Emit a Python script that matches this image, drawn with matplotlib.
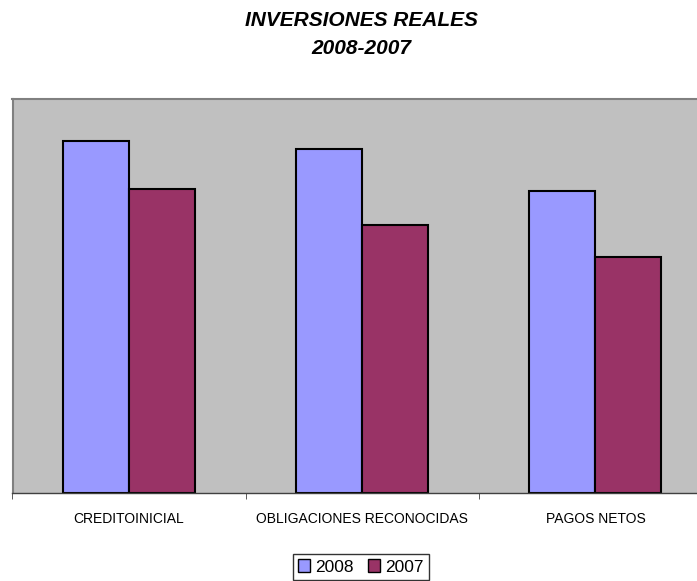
import matplotlib
matplotlib.use("Agg")
import matplotlib.pyplot as plt
import numpy as np

categories = ["CREDITOINICIAL", "OBLIGACIONES RECONOCIDAS", "PAGOS NETOS"]
series_names = ["2008", "2007"]
values_2008 = [35.2, 34.4, 30.2]
values_2007 = [30.4, 26.8, 23.6]
title_lines = ["INVERSIONES REALES", "2008-2007"]

W, H = 697, 581
fig = plt.figure(figsize=(W / 100, H / 100), dpi=100)
plt.rcParams['font.family'] = ['Liberation Sans', 'DejaVu Sans']

left, right, top, bottom = 12.5, 712.0, 99.0, 493.0
ax = fig.add_axes([left / W, 1 - bottom / H, (right - left) / W, (bottom - top) / H])
ax.set_facecolor("#C0C0C0")

x = np.arange(len(categories))
bw = 0.283
ax.bar(x - bw / 2, values_2008, bw, color="#9999FF", edgecolor="black", linewidth=1.5, label=series_names[0])
ax.bar(x + bw / 2, values_2007, bw, color="#993366", edgecolor="black", linewidth=1.5, label=series_names[1])

ax.set_xlim(-0.5, len(categories) - 0.5)
ax.set_ylim(0, 39.4)
ax.set_yticks([])
ax.set_xticks(x)
ax.set_xticklabels(categories, fontsize=10)
ax.tick_params(axis="x", which="major", length=0, pad=14)
ax.set_xticks(np.arange(-0.5, len(categories) + 0.5, 1), minor=True)
ax.tick_params(axis="x", which="minor", length=4, color="#404040", direction="out")

for s in ["left", "top", "right"]:
    ax.spines[s].set_color("#808080")
    ax.spines[s].set_linewidth(1.5)
ax.spines["bottom"].set_color("#404040")
ax.spines["bottom"].set_linewidth(1.0)

fig.text(361 / W, 1 - 21 / H, title_lines[0], ha="center", va="center",
         fontsize=15, fontweight="bold", fontstyle="italic")
fig.text(361 / W, 1 - 48 / H, title_lines[1], ha="center", va="center",
         fontsize=15, fontweight="bold", fontstyle="italic")

leg = fig.legend(loc="center", bbox_to_anchor=(361 / W, 1 - 567 / H), ncol=2,
                 fontsize=12.5, frameon=True, fancybox=False, handlelength=0.7,
                 handleheight=0.7, handletextpad=0.3, columnspacing=0.8,
                 borderpad=0.3, borderaxespad=0)
leg.get_frame().set_edgecolor("black")
leg.get_frame().set_linewidth(1.0)
for h in leg.legend_handles:
    h.set_linewidth(1.0)

fig.savefig("out.png", dpi=100)
